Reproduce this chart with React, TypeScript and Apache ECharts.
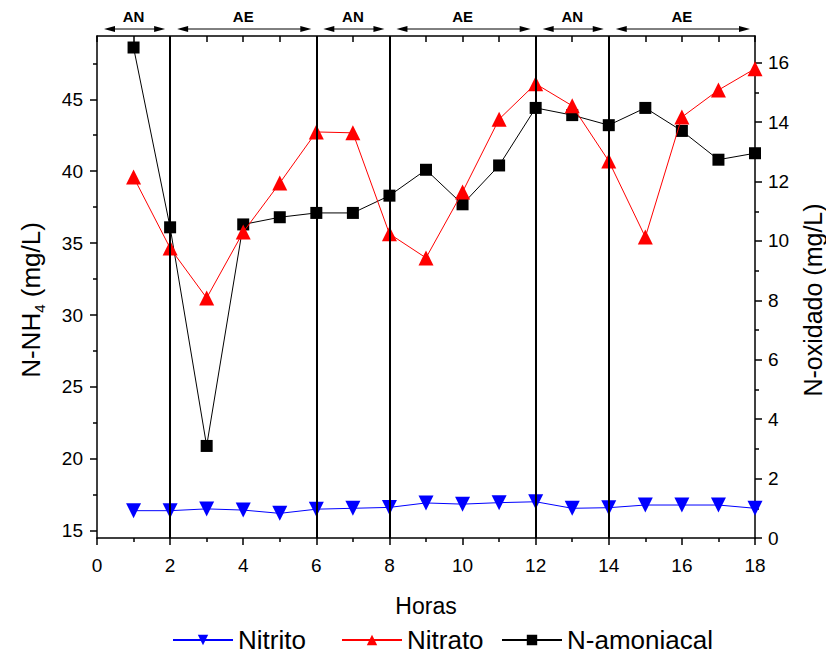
import React, { useEffect, useRef } from 'react';
import * as echarts from 'echarts';

const hours = [1, 2, 3, 4, 5, 6, 7, 8, 9, 10, 11, 12, 13, 14, 15, 16, 17, 18];
const nitrito = [0.92, 0.92, 0.98, 0.94, 0.83, 0.97, 1.0, 1.03, 1.18, 1.14, 1.19, 1.22, 1.0, 1.02, 1.11, 1.11, 1.11, 1.0];
const nitrato = [12.15, 9.76, 8.08, 10.3, 11.95, 13.67, 13.64, 10.24, 9.43, 11.65, 14.1, 15.29, 14.55, 12.69, 10.13, 14.17, 15.08, 15.8];
const amoniacal = [48.6, 36.1, 20.9, 36.3, 36.8, 37.1, 37.1, 38.3, 40.1, 37.7, 40.4, 44.4, 43.9, 43.2, 44.4, 42.8, 40.8, 41.25];

const phaseLabels = ['AN', 'AE', 'AN', 'AE', 'AN', 'AE'];
const phaseStart = [0, 2, 6, 8, 12, 14];
const phaseEnd = [2, 6, 8, 12, 14, 18];
const dividerHours = [2, 6, 8, 12, 14];

const leftTicks = [15, 20, 25, 30, 35, 40, 45];
const leftMinorTicks = [17.5, 22.5, 27.5, 32.5, 37.5, 42.5, 47.5];
const rightTicks = [0, 2, 4, 6, 8, 10, 12, 14, 16];
const rightMinorTicks = [1, 3, 5, 7, 9, 11, 13, 15];

const legendNames = ['Nitrito', 'Nitrato', 'N-amoniacal'];
const legendLeft = [172, 341, 501];

const FONT = '"Liberation Sans", Arial, sans-serif';

export default function App() {
  const ref = useRef<HTMLDivElement>(null);
  useEffect(() => {
    if (!ref.current) return;
    const chart = echarts.init(ref.current, undefined, { renderer: 'svg' });
    const axisLineStyle = { color: '#000', width: 1.5 };
    const option: any = {
      animation: false,
      backgroundColor: '#fff',
      grid: { left: 97, right: 71, top: 36, bottom: 119, containLabel: false, outerBoundsMode: 'none' },
      legend: legendNames.map((n, i) => ({
        left: legendLeft[i],
        top: 627,
        padding: 0,
        itemWidth: 60,
        itemHeight: 13,
        textStyle: { fontSize: 26, lineHeight: 26, color: '#000', fontFamily: FONT },
        data: [n],
      })),
      xAxis: [
        {
          type: 'value',
          min: 0,
          max: 18,
          interval: 2,
          position: 'bottom',
          name: 'Horas',
          nameLocation: 'middle',
          nameGap: 56,
          nameTextStyle: { fontSize: 23, color: '#000', fontFamily: FONT },
          axisLine: { show: true, onZero: false, lineStyle: axisLineStyle },
          axisTick: { show: true, inside: false, length: 7, lineStyle: axisLineStyle },
          minorTick: { show: true, splitNumber: 2, length: 4, lineStyle: axisLineStyle },
          splitLine: { show: false },
          axisLabel: { fontSize: 19, color: '#000', margin: 18, fontFamily: FONT },
        },
        {
          type: 'value',
          min: 0,
          max: 18,
          interval: 1,
          position: 'top',
          axisLine: { show: true, onZero: false, lineStyle: axisLineStyle },
          axisTick: { show: true, inside: true, length: 6, lineStyle: axisLineStyle },
          axisLabel: { show: false },
          splitLine: { show: false },
        },
      ],
      yAxis: [
        {
          type: 'value',
          min: 14.5,
          max: 49.4,
          position: 'left',
          name: '{a|N-NH}{s|4}{a| (mg/L)}{g|}',
          nameLocation: 'middle',
          nameRotate: 90,
          nameGap: 50,
          nameTextStyle: {
            rich: {
              a: { fontSize: 26, color: '#000', fontFamily: FONT, lineHeight: 32 },
              s: { fontSize: 15, color: '#000', fontFamily: FONT, lineHeight: 15, verticalAlign: 'bottom' },
              g: { width: 26, fontSize: 10 },
            },
          },
          axisLine: { show: true, onZero: false, lineStyle: axisLineStyle },
          axisTick: { show: true, inside: false, length: 7, customValues: leftTicks, lineStyle: axisLineStyle },
          axisLabel: { fontSize: 19, color: '#000', margin: 14, customValues: leftTicks, fontFamily: FONT },
          splitLine: { show: false },
        },
        {
          type: 'value',
          min: 0,
          max: 16.9,
          position: 'right',
          name: '{a|N-oxidado (mg/L)}{g|}',
          nameLocation: 'middle',
          nameRotate: 90,
          nameGap: 42,
          nameTextStyle: {
            rich: {
              a: { fontSize: 25, color: '#000', fontFamily: FONT, lineHeight: 25 },
              g: { width: 26, fontSize: 10 },
            },
          },
          axisLine: { show: true, onZero: false, lineStyle: axisLineStyle },
          axisTick: { show: true, inside: false, length: 7, customValues: rightTicks, lineStyle: axisLineStyle },
          axisLabel: { fontSize: 19, color: '#000', margin: 13, customValues: rightTicks, fontFamily: FONT },
          splitLine: { show: false },
        },
        {
          type: 'value',
          min: 14.5,
          max: 49.4,
          position: 'left',
          axisLine: { show: false, onZero: false },
          axisTick: { show: true, inside: false, length: 4, customValues: leftMinorTicks, lineStyle: axisLineStyle },
          axisLabel: { show: false },
          splitLine: { show: false },
        },
        {
          type: 'value',
          min: 0,
          max: 16.9,
          position: 'right',
          axisLine: { show: false, onZero: false },
          axisTick: { show: true, inside: false, length: 4, customValues: rightMinorTicks, lineStyle: axisLineStyle },
          axisLabel: { show: false },
          splitLine: { show: false },
        },
      ],
      series: [
        {
          name: 'N-amoniacal',
          type: 'line',
          xAxisIndex: 0,
          yAxisIndex: 0,
          data: hours.map((h, i) => [h, amoniacal[i]]),
          symbol: 'rect',
          symbolSize: 12,
          itemStyle: { color: '#000' },
          lineStyle: { color: '#000', width: 1 },
          markLine: {
            silent: true,
            symbol: ['none', 'none'],
            label: { show: false },
            lineStyle: { color: '#000', width: 2, type: 'solid' },
            data: dividerHours.map((h) => ({ xAxis: h })),
          },
          z: 3,
        },
        {
          name: 'Nitrato',
          type: 'line',
          xAxisIndex: 0,
          yAxisIndex: 1,
          data: hours.map((h, i) => [h, nitrato[i]]),
          symbol: 'triangle',
          symbolSize: 15,
          itemStyle: { color: '#ff0000' },
          lineStyle: { color: '#ff0000', width: 1 },
          z: 4,
        },
        {
          name: 'Nitrito',
          type: 'line',
          xAxisIndex: 0,
          yAxisIndex: 1,
          data: hours.map((h, i) => [h, nitrito[i]]),
          symbol: 'triangle',
          symbolRotate: 180,
          symbolSize: 15,
          itemStyle: { color: '#0000ff' },
          lineStyle: { color: '#0000ff', width: 1 },
          z: 4,
        },
      ],
    };
    chart.setOption(option);

    const graphics: any[] = [];
    const yArrow = 29;
    phaseLabels.forEach((label, i) => {
      const x1 = (chart.convertToPixel({ xAxisIndex: 0 }, phaseStart[i]) as number) + 7;
      const x2 = (chart.convertToPixel({ xAxisIndex: 0 }, phaseEnd[i]) as number) - 5;
      const xc = chart.convertToPixel({ xAxisIndex: 0 }, (phaseStart[i] + phaseEnd[i]) / 2) as number;
      graphics.push({
        type: 'line',
        shape: { x1: x1 + 4, y1: yArrow, x2: x2 - 4, y2: yArrow },
        style: { stroke: '#000', lineWidth: 1 },
      });
      graphics.push({
        type: 'polygon',
        shape: { points: [[x1, yArrow], [x1 + 11, yArrow - 3], [x1 + 11, yArrow + 3]] },
        style: { fill: '#000' },
      });
      graphics.push({
        type: 'polygon',
        shape: { points: [[x2, yArrow], [x2 - 11, yArrow - 3], [x2 - 11, yArrow + 3]] },
        style: { fill: '#000' },
      });
      graphics.push({
        type: 'text',
        x: xc,
        y: 16,
        style: {
          text: label,
          fill: '#000',
          font: `bold 15px ${FONT}`,
          textAlign: 'center',
          textVerticalAlign: 'middle',
        },
      });
    });
    chart.setOption({ graphic: graphics });

    return () => chart.dispose();
  }, []);

  return (
    <div
      ref={ref}
      style={{ position: 'absolute', left: 0, top: 0, width: 826, height: 657 }}
    />
  );
}
